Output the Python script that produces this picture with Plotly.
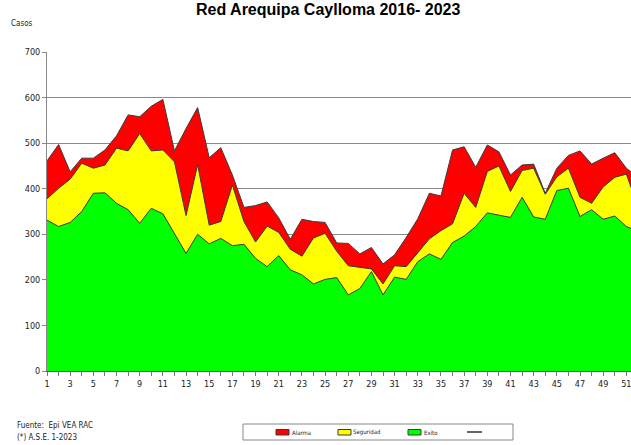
import plotly.graph_objects as go

semanas = list(range(1, 53))
alarma = [461, 497, 437, 467, 467, 485, 516, 562, 558, 581, 596, 483, 532, 578, 468, 490,
          430, 359, 363, 371, 336, 289, 333, 328, 326, 281, 280, 257, 271, 235, 255, 293,
          334, 390, 384, 485, 492, 447, 496, 481, 430, 452, 454, 390, 445, 473, 483, 454,
          467, 479, 445, 425]
seguridad = [378, 401, 421, 456, 445, 452, 489, 483, 521, 483, 485, 459, 341, 453, 320, 328,
             408, 328, 283, 318, 304, 267, 252, 292, 302, 263, 231, 227, 224, 191, 231, 229,
             259, 290, 308, 323, 390, 359, 438, 450, 394, 440, 445, 388, 426, 445, 381, 368,
             404, 425, 432, 360]
exito = [331, 317, 326, 350, 390, 391, 368, 354, 324, 357, 345, 302, 258, 300, 279, 291,
         275, 278, 247, 229, 253, 222, 211, 191, 201, 205, 167, 181, 218, 167, 206, 201,
         240, 257, 245, 282, 296, 317, 347, 342, 337, 381, 338, 333, 396, 401, 339, 354,
         333, 340, 317, 307]

x_ticks = semanas
x_labels = [str(s) if s % 2 == 1 else "" for s in semanas]
y_ticks = [0, 100, 200, 300, 400, 500, 600, 700]

series = [("Alarma", alarma, "#FF0000"),
          ("Seguridad", seguridad, "#FFFF00"),
          ("Exito", exito, "#00FF00")]

FONT = "Liberation Sans Narrow, Arial Narrow, DejaVu Sans Condensed, Arial, sans-serif"
OUTLINE = "#3a3a3a"

fig = go.Figure()
for name, vals, col in series:
    fig.add_trace(go.Scatter(x=semanas, y=vals, name=name, mode="lines",
                             line=dict(color=OUTLINE, width=1),
                             fill="tozeroy", fillcolor=col, showlegend=False))

W, H = 631, 445
L, R, T, B = 47, 0, 52, 74
pw, ph = W - L - R, H - T - B

def px2x(px):
    return (px - L) / pw

def py2y(py):
    return (H - B - py) / ph

shapes = [dict(type="rect", xref="paper", yref="paper",
               x0=px2x(243), x1=px2x(513), y0=py2y(440), y1=py2y(424),
               line=dict(color="#888", width=1), fillcolor="white", layer="above")]
annotations = [
    dict(text="<b>Red Arequipa Caylloma 2016- 2023</b>", xref="paper", yref="paper",
         x=px2x(328), y=py2y(9), xanchor="center", yanchor="middle", showarrow=False,
         font=dict(family="Liberation Sans, Arial, sans-serif", size=16, color="black")),
    dict(text="Casos", xref="paper", yref="paper", x=px2x(9), y=py2y(23),
         xanchor="left", yanchor="middle", showarrow=False,
         font=dict(family=FONT, size=8, color="#222")),
    dict(text="Fuente:  Epi VEA RAC", xref="paper", yref="paper", x=px2x(15), y=py2y(425),
         xanchor="left", yanchor="middle", showarrow=False,
         font=dict(family=FONT, size=8, color="#222")),
    dict(text="(*) A.S.E. 1-2023", xref="paper", yref="paper", x=px2x(15), y=py2y(437),
         xanchor="left", yanchor="middle", showarrow=False,
         font=dict(family=FONT, size=8, color="#222")),
]
# legend (drawn as in the original Excel legend box)
leg_x = [276, 338, 408]
for (name, vals, col), lx in zip(series, leg_x):
    shapes.append(dict(type="rect", xref="paper", yref="paper",
                       x0=px2x(lx), x1=px2x(lx + 13), y0=py2y(435), y1=py2y(429.5),
                       line=dict(color=OUTLINE, width=1), fillcolor=col, layer="above"))
    annotations.append(dict(text=name, xref="paper", yref="paper", x=px2x(lx + 13.5),
                            y=py2y(432), xanchor="left", yanchor="middle", showarrow=False,
                            font=dict(family=FONT, size=6, color="#222")))
shapes.append(dict(type="line", xref="paper", yref="paper",
                   x0=px2x(467), x1=px2x(482), y0=py2y(432), y1=py2y(432),
                   line=dict(color="black", width=1.2), layer="above"))

fig.update_layout(
    width=W, height=H,
    margin=dict(l=L, r=R, t=T, b=B, autoexpand=False),
    paper_bgcolor="white", plot_bgcolor="white",
    font=dict(family=FONT, size=9, color="#222"),
    showlegend=False,
    xaxis=dict(range=[1, 51.4], tickmode="array", tickvals=x_ticks, ticktext=x_labels,
               showgrid=False, zeroline=False, showline=True, linecolor="#555", linewidth=1,
               ticks="outside", ticklen=4, tickcolor="#777", ticklabeloverflow="allow",
               tickfont=dict(size=9, family=FONT, color="#222")),
    yaxis=dict(range=[0, 700], tickmode="array", tickvals=y_ticks,
               showgrid=True, gridcolor="#8a8a8a", gridwidth=1, zeroline=False,
               showline=True, linecolor="#888", linewidth=1,
               ticks="outside", ticklen=4, tickcolor="#888",
               tickfont=dict(size=9, family=FONT, color="#222")),
    shapes=shapes,
    annotations=annotations,
)

fig.write_html("out.html", config={"displayModeBar": False},
               post_script="document.body.style.margin='0';document.body.style.overflow='hidden';")
